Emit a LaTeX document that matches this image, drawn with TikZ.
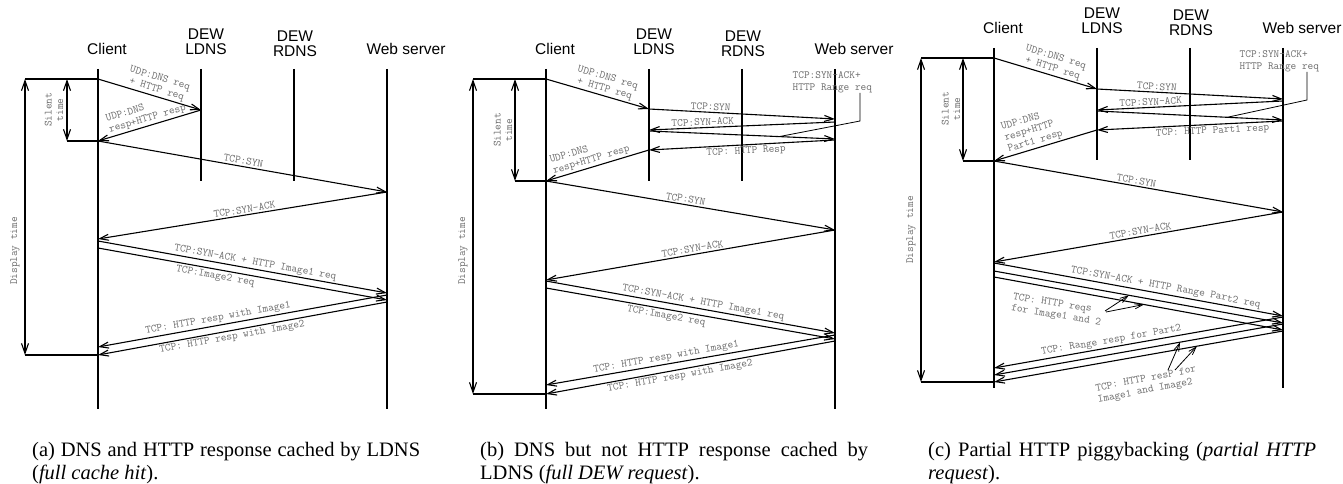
\documentclass[tikz,border=0pt]{standalone}
\usepackage{fontspec}
\setmainfont{Liberation Serif}
\newfontfamily\headfont{Liberation Sans}
\usetikzlibrary{arrows.meta,calc}
\definecolor{lblgray}{gray}{0.42}

% headings and lifelines of one panel
\newcommand{\panelheads}[1]{%
  \node[actor] (#1-hclient) at (107,55) {Client};
  \node[actor] (#1-hldns) at (206,55) {DEW\\LDNS};
  \node[actor] (#1-hrdns) at (295,57) {DEW\\RDNS};
  \node[actor] (#1-hweb) at (406,55) {Web server};
  \foreach \n/\x/\b in {cl/98/409,ld/201/181,rd/294/181,ws/387/409}{
    \coordinate (#1-\n-top) at (\x,69);
    \coordinate (#1-\n-bot) at (\x,\b);
    \draw[lifeline] (#1-\n-top) -- (#1-\n-bot);
  }
}

\begin{document}
\begin{tikzpicture}[x=1pt,y=-1pt,
  lifeline/.style={line width=1.1pt},
  msg/.style={line width=1.1pt,-{Straight Barb[length=9pt,width=6pt]}},
  timespan/.style={line width=1.1pt,{Straight Barb[length=10pt,width=7pt]}-{Straight Barb[length=10pt,width=7pt]}},
  ptr/.style={line width=0.8pt,-{Straight Barb[length=8pt,width=5pt]}},
  lbl/.style={font=\ttfamily\fontsize{11}{11.5}\selectfont,text=lblgray,inner sep=1.5pt},
  actor/.style={font=\headfont\fontsize{15.5}{15}\selectfont,align=center,anchor=south,inner sep=0pt},
  subcap/.style={font=\fontsize{20.5}{23.5}\selectfont,text width=388pt,align=justify,anchor=north west,inner sep=0pt}]
\useasboundingbox (0,0) rectangle (1343,484);

% (a) full cache hit
\begin{scope}
\panelheads{a}
\foreach \n/\x/\y in {c1/98/79,l1/201/110,c2/98/141,w1/387/192,c3/98/239,
  c4/98/241,w2/387/293,c5/98/248,w3/387/300,w4/387/295,c6/98/347,w5/387/302,c7/98/355,
  d1/25/79,s1/67/79,s2/67/141,d2/25/355}
  \coordinate (a-\n) at (\x,\y);
\draw[lifeline] (a-d1) -- (a-c1);
\draw[lifeline] (a-s2) -- (a-c2);
\draw[lifeline] (a-d2) -- (a-c7);
\draw[timespan] (a-s1) -- (a-s2);
\draw[timespan] (a-d1) -- (a-d2);
\node[lbl,rotate=90,align=center] (a-silent) at (54,110) {Silent\\time};
\node[lbl,rotate=90] (a-display) at (15,251) {Display time};
\draw[msg] (a-c1) -- node[lbl,above,sloped,pos=.55,align=center] {UDP:DNS req\\+ HTTP req} (a-l1);
\draw[msg] (a-l1) -- node[lbl,above,sloped,pos=.5,align=left] {UDP:DNS\\resp+HTTP resp} (a-c2);
\draw[msg] (a-c2) -- node[lbl,above,sloped,pos=.5] {TCP:SYN} (a-w1);
\draw[msg] (a-w1) -- node[lbl,above,sloped,pos=.49] {TCP:SYN-ACK} (a-c3);
\draw[msg] (a-c4) -- node[lbl,above,sloped,pos=.54] {TCP:SYN-ACK + HTTP Image1 req} (a-w2);
\draw[msg] (a-c5) -- node[lbl,below,sloped,pos=.41] {TCP:Image2 req} (a-w3);
\draw[msg] (a-w4) -- node[lbl,above,sloped,pos=.58] {TCP: HTTP resp with Image1} (a-c6);
\draw[msg] (a-w5) -- node[lbl,below,sloped,pos=.54] {TCP: HTTP resp with Image2} (a-c7);
\end{scope}

% (b) full DEW request
\begin{scope}[shift={(448,0)}]
\panelheads{b}
\foreach \n/\x/\y in {c1/98/79,l1/201/109,w1/387/119,w2/387/122,l2/201/130,l3/201/131,w3/387/139,
  w4/387/140,l4/201/150,c2/98/181,w5/387/230,c3/98/280,c4/98/281,w6/387/333,c5/98/288,w7/387/339,
  w8/387/335,c6/98/385,w9/387/341,c7/98/394,d1/25/79,s1/67/79,s2/67/181,d2/25/394,n1/412/93,n2/412/121}
  \coordinate (b-\n) at (\x,\y);
\draw[lifeline] (b-d1) -- (b-c1);
\draw[lifeline] (b-s2) -- (b-c2);
\draw[lifeline] (b-d2) -- (b-c7);
\draw[timespan] (b-s1) -- (b-s2);
\draw[timespan] (b-d1) -- (b-d2);
\node[lbl,rotate=90,align=center] (b-silent) at (55,130) {Silent\\time};
\node[lbl,rotate=90] (b-display) at (15,251) {Display time};
\draw[msg] (b-c1) -- node[lbl,above,sloped,pos=.55,align=center] {UDP:DNS req\\+ HTTP req} (b-l1);
\draw[msg] (b-l1) -- node[lbl,above,sloped,pos=.33] {TCP:SYN} (b-w1);
\draw[msg] (b-w2) -- node[lbl,above,sloped,pos=.71] {TCP:SYN-ACK} (b-l2);
\draw[msg] (b-l3) -- (b-w3);
\draw[msg] (b-w4) -- node[lbl,below,sloped,pos=.48] {TCP: HTTP Resp} (b-l4);
\draw[msg] (b-l4) -- node[lbl,above,sloped,pos=.54,align=left] {UDP:DNS\\resp+HTTP resp} (b-c2);
\node[lbl,anchor=north west,align=left] (b-note) at (343,70) {TCP:SYN-ACK+\\HTTP Range req};
\coordinate (b-n3) at ($(b-l3)!.7!(b-w3)$);
\draw[line width=.8pt] (b-n1) -- (b-n2) -- (b-n3);
\draw[msg] (b-c2) -- node[lbl,above,sloped,pos=.48] {TCP:SYN} (b-w5);
\draw[msg] (b-w5) -- node[lbl,above,sloped,pos=.49] {TCP:SYN-ACK} (b-c3);
\draw[msg] (b-c4) -- node[lbl,above,sloped,pos=.54] {TCP:SYN-ACK + HTTP Image1 req} (b-w6);
\draw[msg] (b-c5) -- node[lbl,below,sloped,pos=.42] {TCP:Image2 req} (b-w7);
\draw[msg] (b-w8) -- node[lbl,above,sloped,pos=.58] {TCP: HTTP resp with Image1} (b-c6);
\draw[msg] (b-w9) -- node[lbl,below,sloped,pos=.54] {TCP: HTTP resp with Image2} (b-c7);
\end{scope}

% (c) partial HTTP request
\begin{scope}[shift={(896,-21)}]
\panelheads{c}
\foreach \n/\x/\y in {c1/98/79,l1/201/110,w1/387/120,w2/387/122,l2/201/131,l3/201/132,w3/387/141,
  w4/387/142,l4/201/151,c2/98/182,w5/387/233,c3/98/283,c4/98/284,w6/387/337,c5/98/292,w7/387/344,
  c6/98/298,w8/387/351,w9/387/338,c7/98/389,w10/387/345,c8/98/396,w11/387/352,c9/98/403,
  d1/25/79,s1/67/79,s2/67/182,d2/25/403,n1/411/93,n2/411/121,p1/209/332,p2/210/333,p3/272/391,p4/279/391}
  \coordinate (c-\n) at (\x,\y);
\draw[lifeline] (c-d1) -- (c-c1);
\draw[lifeline] (c-s2) -- (c-c2);
\draw[lifeline] (c-d2) -- (c-c9);
\draw[timespan] (c-s1) -- (c-s2);
\draw[timespan] (c-d1) -- (c-d2);
\node[lbl,rotate=90,align=center] (c-silent) at (55,130) {Silent\\time};
\node[lbl,rotate=90] (c-display) at (15,251) {Display time};
\draw[msg] (c-c1) -- node[lbl,above,sloped,pos=.55,align=center] {UDP:DNS req\\+ HTTP req} (c-l1);
\draw[msg] (c-l1) -- node[lbl,above,sloped,pos=.32] {TCP:SYN} (c-w1);
\draw[msg] (c-w2) -- node[lbl,above,sloped,pos=.71] {TCP:SYN-ACK} (c-l2);
\draw[msg] (c-l3) -- (c-w3);
\draw[msg] (c-w4) -- node[lbl,below,sloped,pos=.38] {TCP: HTTP Part1 resp} (c-l4);
\draw[msg] (c-l4) -- node[lbl,above,sloped,pos=.58,align=left] {UDP:DNS\\resp+HTTP\\Part1 resp} (c-c2);
\node[lbl,anchor=north west,align=left] (c-note) at (342,70) {TCP:SYN-ACK+\\HTTP Range req};
\coordinate (c-n3) at ($(c-l3)!.7!(c-w3)$);
\draw[line width=.8pt] (c-n1) -- (c-n2) -- (c-n3);
\draw[msg] (c-c2) -- node[lbl,above,sloped,pos=.49] {TCP:SYN} (c-w5);
\draw[msg] (c-w5) -- node[lbl,above,sloped,pos=.49] {TCP:SYN-ACK} (c-c3);
\draw[msg] (c-c4) -- node[lbl,above,sloped,pos=.59] {TCP:SYN-ACK + HTTP Range Part2 req} (c-w6);
\draw[msg] (c-c5) -- (c-w7);
\draw[msg] (c-c6) -- (c-w8);
\draw[msg] (c-w9) -- node[lbl,above,sloped,pos=.59] {TCP: Range resp for Part2} (c-c7);
\draw[msg] (c-w10) -- (c-c8);
\draw[msg] (c-w11) -- (c-c9);
\node[lbl,rotate=-9,align=left] (c-reqs) at (161,331) {TCP: HTTP reqs\\for Image1 and 2};
\node[lbl,rotate=11,align=left] (c-resps) at (251,406) {TCP: HTTP resP for\\Image1 and Image2};
\coordinate (c-q1) at ($(c-c5)!.467!(c-w7)$);
\coordinate (c-q2) at ($(c-c6)!.519!(c-w8)$);
\coordinate (c-r1) at ($(c-w10)!.356!(c-c8)$);
\coordinate (c-r2) at ($(c-w11)!.298!(c-c9)$);
\draw[ptr] (c-p1) -- (c-q1);
\draw[ptr] (c-p2) -- (c-q2);
\draw[ptr] (c-p3) -- (c-r1);
\draw[ptr] (c-p4) -- (c-r2);
\end{scope}

% captions
\node[subcap] (a-cap) at (32,442) {(a) DNS and HTTP response cached by LDNS\linebreak (\emph{full cache hit}).};
\node[subcap] (b-cap) at (480,442) {(b) DNS but not HTTP response cached by\linebreak LDNS (\emph{full DEW request}).};
\node[subcap] (c-cap) at (928,442) {(c) Partial HTTP piggybacking (\emph{partial HTTP}\linebreak \emph{request}).};
\end{tikzpicture}
\end{document}
